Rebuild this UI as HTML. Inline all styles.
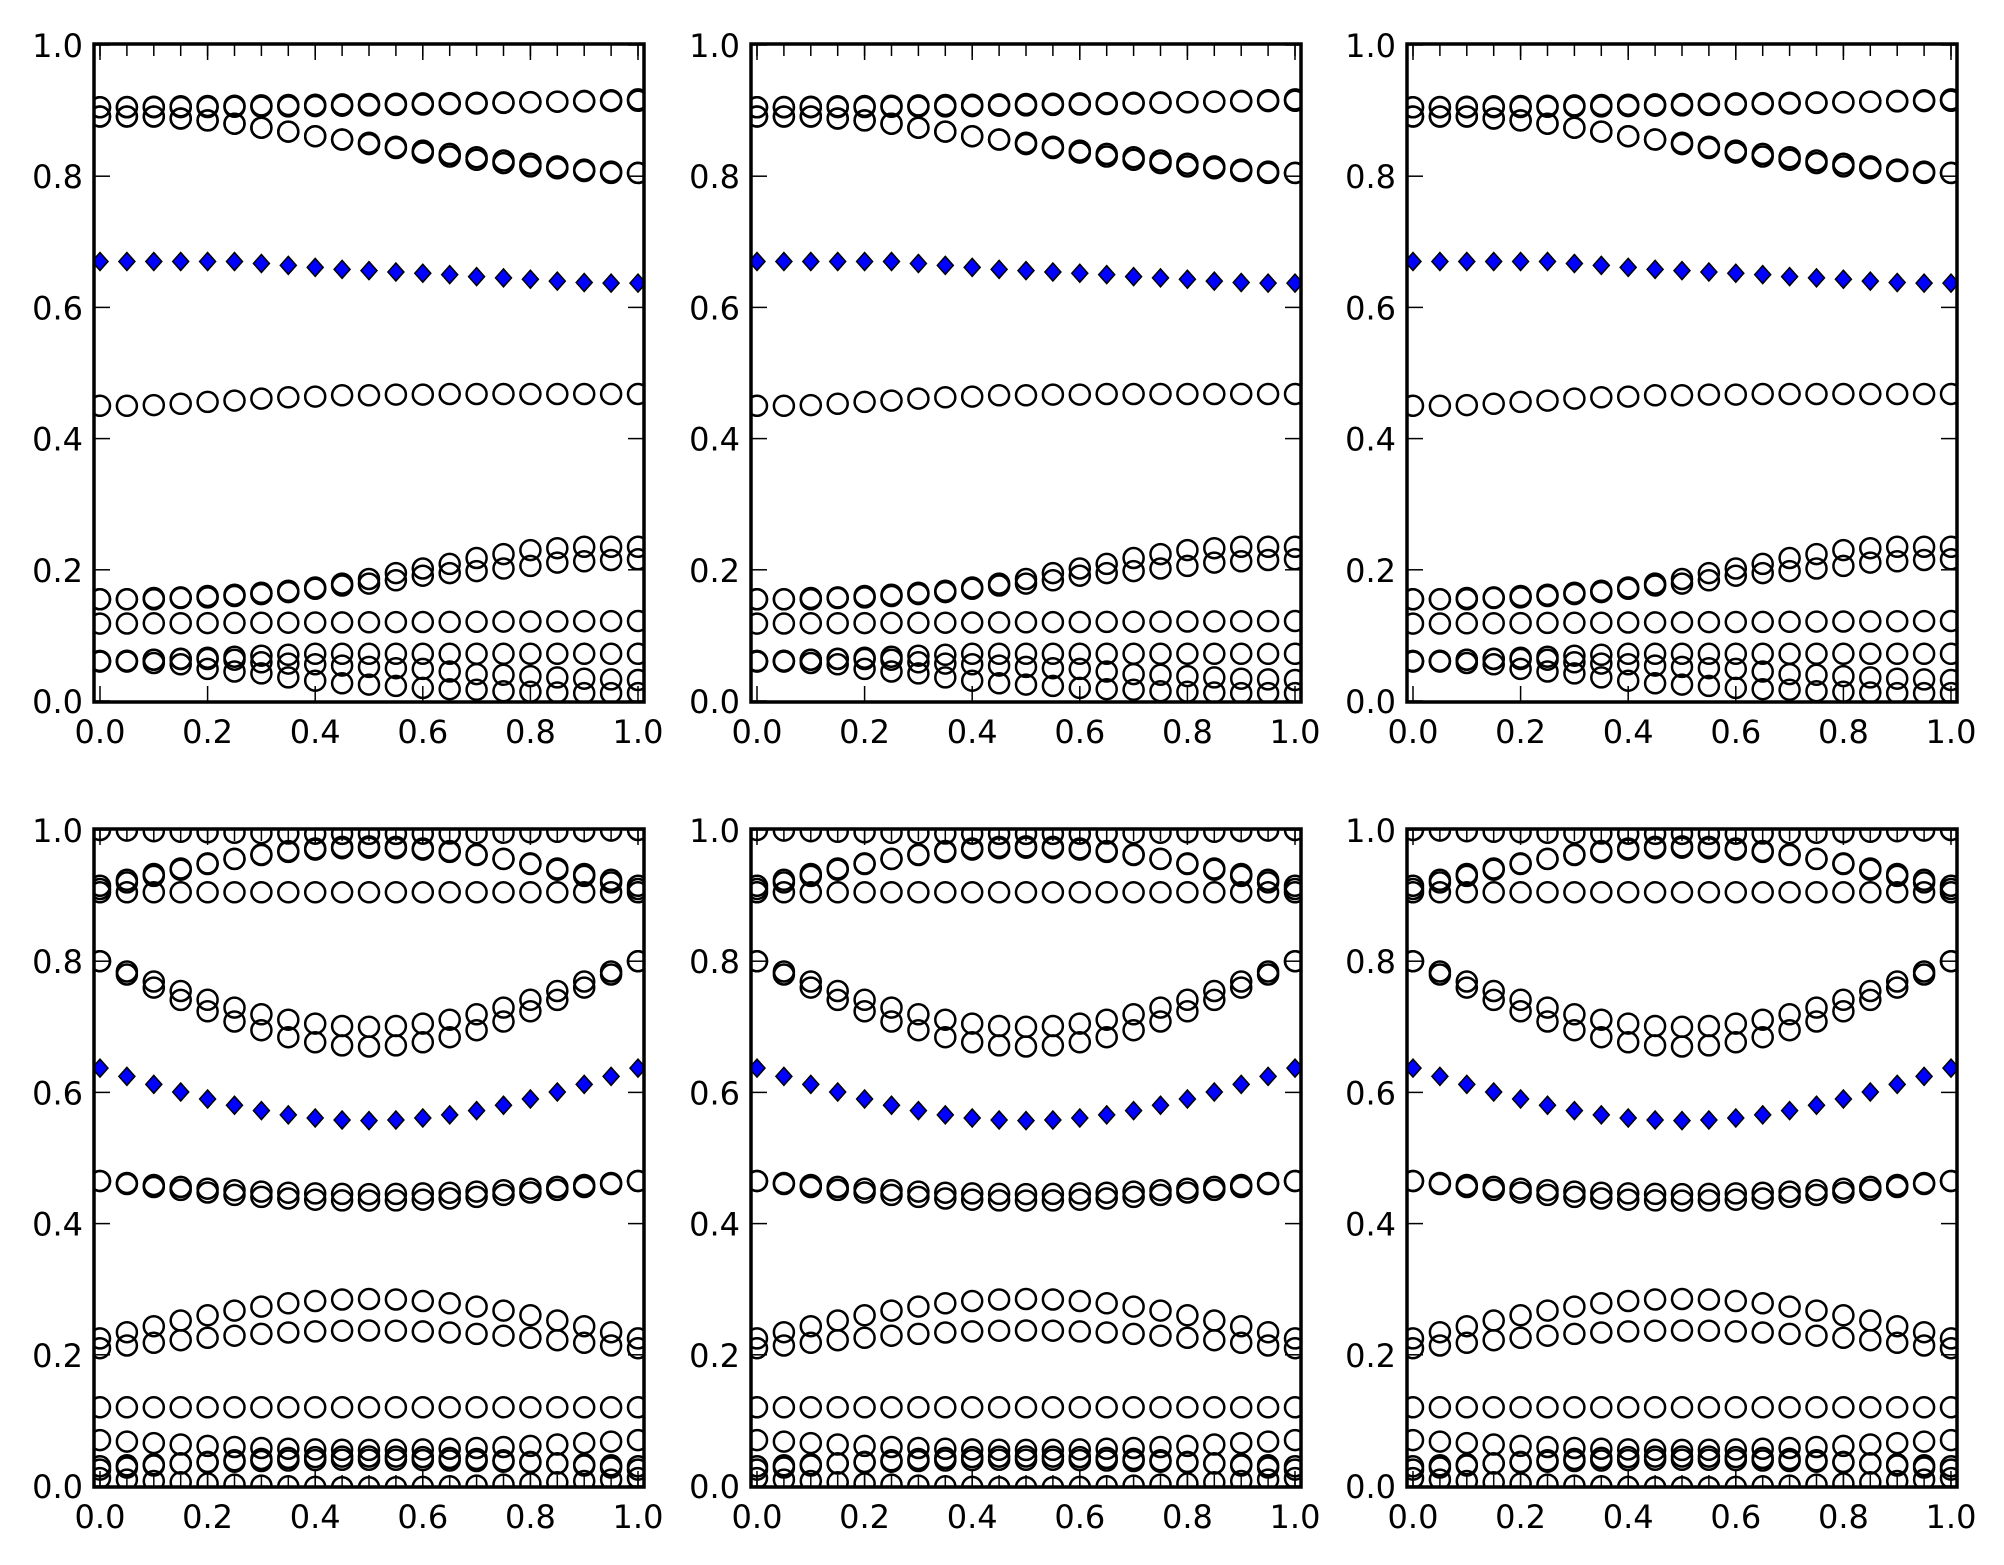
<!DOCTYPE html>
<html><head><meta charset="utf-8"><style>
html,body{margin:0;padding:0;background:#fff;}
svg{display:block;}
text{font-family:"DejaVu Sans","Liberation Sans",sans-serif;font-size:32px;fill:#000;}
</style></head><body>
<svg id="s" width="2004" height="1565" xmlns="http://www.w3.org/2000/svg"></svg>
<script>
(function(){
const S=document.getElementById('s');
let out='';
const xs=[];for(let i=0;i<=20;i++)xs.push(i/20);
const sn=x=>Math.sin(Math.PI*x);
const topS=[
 {m:'o',y:xs.map(x=>0.905+0.010*x)},
 {m:'o',y:xs.map(x=>0.905+0.012*x*x)},
 {m:'o',y:[.891,.891,.891,.888,.885,.880,.874,.868,.861,.856,.851,.845,.839,.834,.829,.824,.819,.815,.810,.807,.805]},
 {m:'o',y:[.891,.891,.891,.888,.885,.880,.874,.868,.861,.856,.849,.843,.836,.830,.825,.820,.815,.812,.808,.805,.805]},
 {m:'o',y:[.450,.450,.451,.453,.456,.458,.461,.463,.464,.466,.466,.467,.467,.468,.468,.468,.468,.468,.468,.468,.468]},
 {m:'o',y:[.155,.155,.157,.158,.160,.162,.165,.168,.173,.179,.186,.195,.202,.209,.218,.224,.230,.233,.235,.235,.235]},
 {m:'o',y:[.155,.155,.155,.157,.158,.160,.163,.166,.171,.176,.179,.184,.191,.195,.198,.202,.206,.211,.213,.215,.216]},
 {m:'o',y:xs.map(x=>0.118+0.004*x)},
 {m:'o',y:xs.map(x=>0.060+0.012*Math.min(1,x*2.5))},
 {m:'o',y:[.061,.060,.058,.056,.049,.045,.042,.036,.031,.027,.025,.023,.020,.018,.017,.015,.014,.013,.012,.012,.012]},
 {m:'o',y:[.061,.061,.063,.064,.064,.063,.059,.057,.056,.054,.052,.050,.049,.045,.041,.040,.038,.036,.034,.033,.032]},
 {m:'d',y:[.670,.670,.670,.670,.670,.670,.667,.664,.661,.658,.656,.654,.652,.650,.647,.645,.643,.640,.638,.637,.637]},
];
const botS=[
 {m:'o',y:xs.map(x=>1.0-0.006*sn(x))},
 {m:'o',y:xs.map(x=>0.91+0.065*sn(x))},
 {m:'o',y:xs.map(x=>0.915+0.058*sn(x))},
 {m:'o',y:xs.map(x=>0.905)},
 {m:'o',y:xs.map(x=>0.80-0.10*sn(x))},
 {m:'o',y:xs.map(x=>0.80-0.13*sn(x))},
 {m:'o',y:xs.map(x=>0.465-0.02*sn(x))},
 {m:'o',y:xs.map(x=>0.465-0.03*sn(x))},
 {m:'o',y:xs.map(x=>0.225+0.06*sn(x))},
 {m:'o',y:xs.map(x=>0.21+0.027*sn(x))},
 {m:'o',y:xs.map(x=>0.12)},
 {m:'o',y:xs.map(x=>0.07-0.015*sn(x))},
 {m:'o',y:xs.map(x=>0.025+0.02*sn(x))},
 {m:'o',y:xs.map(x=>0.03+0.01*sn(x))},
 {m:'o',y:xs.map(x=>0.012-0.014*sn(x))},
 {m:'d',y:xs.map(x=>0.637-0.08*sn(x))},
];
const cols=[94,751,1407], rows=[44,829];
let cid=0;
rows.forEach((T,ri)=>cols.forEach(L=>{
  const W=550,H=658;
  const X=x=>L+6+x*538, Y=y=>T+1+(1-y)*656;
  cid++;
  out+=`<clipPath id="c${cid}"><rect x="${L}" y="${T}" width="${W}" height="${H}"/></clipPath><g clip-path="url(#c${cid})">`;
  const ser=ri==0?topS:botS;
  ser.forEach(s=>{
    s.y.forEach((y,i)=>{
      const px=X(xs[i]),py=Y(y);
      if(s.m=='o')out+=`<circle cx="${px.toFixed(1)}" cy="${py.toFixed(1)}" r="10" fill="none" stroke="#000" stroke-width="2.5"/>`;
      else out+=`<path d="M${px} ${py-9}L${px+8} ${py}L${px} ${py+9}L${px-8} ${py}Z" fill="#0000ff" stroke="#000" stroke-width="1.5"/>`;
    });
  });
  xs.forEach(x=>{out+=`<line x1="${X(x)}" y1="${T}" x2="${X(x)}" y2="${T+12}" stroke="#000" stroke-width="1.5"/>`;
    if(ri==1)out+=`<line x1="${X(x)}" y1="${T+H-12}" x2="${X(x)}" y2="${T+H}" stroke="#000" stroke-width="1.5"/>`;});
  out+='</g>';
  for(let k=0;k<=5;k++){
    const v=k/5, px=X(v), py=Y(v);
    out+=`<line x1="${px}" y1="${T}" x2="${px}" y2="${T+16}" stroke="#000" stroke-width="1.5"/>`;
    out+=`<line x1="${px}" y1="${T+H}" x2="${px}" y2="${T+H-16}" stroke="#000" stroke-width="1.5"/>`;
    out+=`<line x1="${L}" y1="${py}" x2="${L+16}" y2="${py}" stroke="#000" stroke-width="1.5"/>`;
    out+=`<line x1="${L+W}" y1="${py}" x2="${L+W-16}" y2="${py}" stroke="#000" stroke-width="1.5"/>`;
    out+=`<text x="${px}" y="${T+H+41}" text-anchor="middle">${v.toFixed(1)}</text>`;
    out+=`<text x="${L-11}" y="${py+12}" text-anchor="end">${v.toFixed(1)}</text>`;
  }
  out+=`<rect x="${L}" y="${T}" width="${W}" height="${H}" fill="none" stroke="#000" stroke-width="3.5"/>`;
}));
S.innerHTML=out;
})();
</script>
</body></html>
